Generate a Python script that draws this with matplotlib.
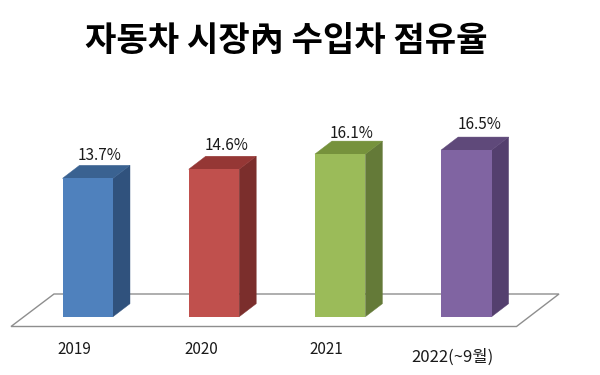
import matplotlib
matplotlib.use("Agg")
import matplotlib.pyplot as plt
from matplotlib.patches import Polygon

plt.rcParams['font.family'] = ['Noto Sans CJK KR', 'DejaVu Sans']

title = "자동차 시장內 수입차 점유율"
categories = ["2019", "2020", "2021", "2022(~9월)"]
values = [13.7, 14.6, 16.1, 16.5]
value_labels = ["13.7%", "14.6%", "16.1%", "16.5%"]
front_colors = ["#4F81BD", "#C0504D", "#9BBB59", "#8064A2"]
side_colors = ["#30527D", "#7B2E2C", "#647A38", "#543F6E"]
top_colors = ["#3A6291", "#953735", "#76923C", "#5F497A"]

W, H = 600, 375
PX_PER_CAT = 126.2
PX_PER_VAL = 10.1
X0_PX, Y0_PX = 87.75, 316.7
BAR_W = 50.5 / PX_PER_CAT
DX, DY = 17 / PX_PER_CAT, 13 / PX_PER_VAL

fig = plt.figure(figsize=(6, 3.75), dpi=100, facecolor="white")
ax = fig.add_axes([0, 0, 1, 1])
ax.set_xlim(-X0_PX / PX_PER_CAT, (W - X0_PX) / PX_PER_CAT)
ax.set_ylim((Y0_PX - H) / PX_PER_VAL, Y0_PX / PX_PER_VAL)
ax.axis("off")

# floor, in figure fractions
floor_px = [(11, 326.5), (516.5, 326.5), (559, 294), (54, 294)]
ax.add_patch(Polygon([(x / W, 1 - y / H) for x, y in floor_px], closed=True,
                     transform=ax.transAxes, facecolor="white",
                     edgecolor="#8E8E8E", linewidth=1.0, zorder=1))

xs = list(range(len(values)))
ax.bar(xs, values, width=BAR_W, color=front_colors, linewidth=0, zorder=3)
for x, v, sc, tc in zip(xs, values, side_colors, top_colors):
    l, r = x - BAR_W / 2, x + BAR_W / 2
    ax.add_patch(Polygon([(r, 0), (r + DX, DY), (r + DX, v + DY), (r, v)],
                         closed=True, facecolor=sc, edgecolor=sc, linewidth=0.3, zorder=2))
    ax.add_patch(Polygon([(l, v), (r, v), (r + DX, v + DY), (l + DX, v + DY)],
                         closed=True, facecolor=tc, edgecolor=tc, linewidth=0.3, zorder=2))

# value labels
val_label_px = [(100, 156), (227, 145), (352, 133), (480, 125)]
for (px, py), s in zip(val_label_px, value_labels):
    ax.text(px / W, 1 - py / H, s, transform=ax.transAxes, ha="center", va="center",
            fontsize=11, color="#1a1a1a")

# category labels
cat_label_px = [(74.5, 350), (201, 350), (326, 350), (452, 357)]
cat_sizes = [11, 11, 11, 12]
for (px, py), s, fs in zip(cat_label_px, categories, cat_sizes):
    ax.text(px / W, 1 - py / H, s, transform=ax.transAxes, ha="center", va="center",
            fontsize=fs, color="#1a1a1a")

ax.text(286 / W, 1 - 41 / H, title, transform=ax.transAxes, ha="center", va="center",
        fontsize=24.6, fontweight="bold", color="black")

fig.savefig("out.png", dpi=100, facecolor="white")
